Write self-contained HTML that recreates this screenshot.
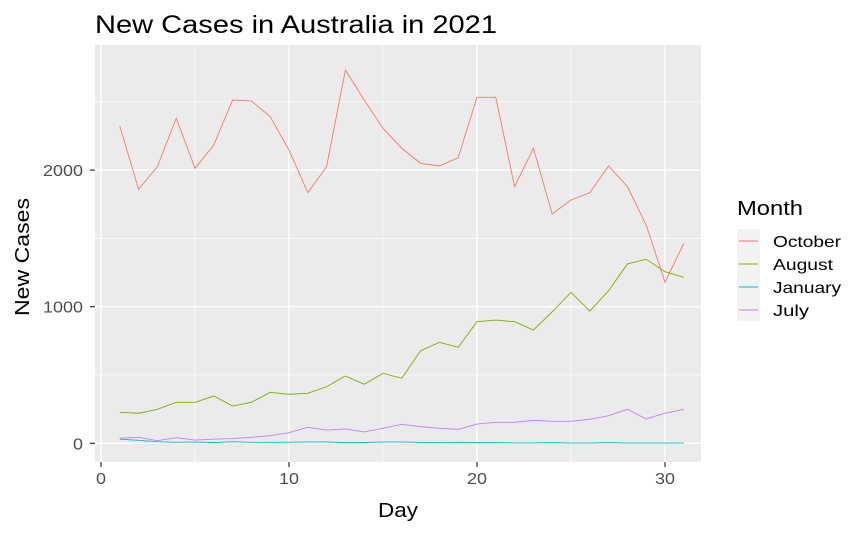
<!DOCTYPE html>
<html><head><meta charset="utf-8"><style>
body{margin:0;background:#fff;font-family:"Liberation Sans",Arial,sans-serif}
</style></head><body>
<svg id="chart" width="865" height="533" xmlns="http://www.w3.org/2000/svg" font-family="Liberation Sans, Arial, sans-serif">
<text x="95" y="33" font-size="25" textLength="402" lengthAdjust="spacingAndGlyphs" fill="#000">New Cases in Australia in 2021</text>
<rect x="95" y="45" width="606" height="417" fill="#EBEBEB"/>
<g id="grid"></g><g id="axes"></g><g id="lines"></g>
<text x="398" y="517" font-size="20" textLength="40" lengthAdjust="spacingAndGlyphs" text-anchor="middle">Day</text>
<text transform="translate(29,257) rotate(-90)" font-size="20" textLength="118" lengthAdjust="spacingAndGlyphs" text-anchor="middle">New Cases</text>
<g id="legend">
<text x="737" y="215" font-size="20" textLength="66" lengthAdjust="spacingAndGlyphs">Month</text>
<rect x="737" y="229" width="23" height="92" fill="#F2F2F2"/>
</g>
</svg>
<script>
const days=[1,2,3,4,5,6,7,8,9,10,11,12,13,14,15,16,17,18,19,20,21,22,23,24,25,26,27,28,29,30,31];
const october=[2323,1859,2025,2379,2013,2184,2513,2506,2391,2147,1835,2025,2733,2513,2306,2160,2050,2030,2091,2533,2533,1879,2160,1679,1781,1835,2030,1879,1598,1179,1464];
const august=[227,220,249,300,300,346,273,300,373,359,366,414,493,432,512,476,678,739,703,890,902,890,829,963,1105,968,1117,1313,1347,1256,1215];
const january=[30,22,12,7,10,5,12,7,7,8,10,10,5,5,10,10,6,6,7,5,5,3,3,5,2,2,5,2,2,2,2];
const july=[37,44,19,41,24,30,35,44,56,78,117,97,105,83,110,139,122,110,102,141,154,154,168,161,161,176,202,249,178,220,249];
const seriesNames=["October","August","January","July"];
const colors=["#F8766D","#7CAE00","#00BFC4","#C77CFF"];
const xTicks=[0,10,20,30];
const yTicks=[0,1000,2000];
const yMinor=[500,1500,2500];
const legendWidths=[68,60,68,36];
const ns="http://www.w3.org/2000/svg";
const X=d=>101+d*18.8;
const Y=v=>443.3-v*0.1366;
function mk(tag,attrs,parent){const e=document.createElementNS(ns,tag);for(const k in attrs)e.setAttribute(k,attrs[k]);parent.appendChild(e);return e;}
const grid=document.getElementById('grid'),axes=document.getElementById('axes'),lines=document.getElementById('lines'),legend=document.getElementById('legend');
yMinor.forEach(v=>{const l=mk('line',{x1:95,x2:701,y1:Y(v),y2:Y(v),stroke:'#fff','stroke-width':0.7},grid);

});
[5,15,25].forEach(v=>{const l=mk('line',{x1:X(v),x2:X(v),y1:45,y2:462,stroke:'#fff','stroke-width':0.7},grid);

});
yTicks.forEach(v=>{const l=mk('line',{x1:95,x2:701,y1:Y(v),y2:Y(v),stroke:'#fff','stroke-width':1.4},grid);


mk('line',{x1:90,x2:95,y1:Y(v),y2:Y(v),stroke:'#333','stroke-width':1.2},axes);
const s=String(v);
const t=mk('text',{x:83,y:Y(v)+6,'font-size':16,'text-anchor':'end',fill:'#4D4D4D',textLength:s.length*10,lengthAdjust:'spacingAndGlyphs'},axes);t.textContent=s;

});
xTicks.forEach(v=>{const l=mk('line',{x1:X(v),x2:X(v),y1:45,y2:462,stroke:'#fff','stroke-width':1.4},grid);


mk('line',{x1:X(v),x2:X(v),y1:462,y2:467,stroke:'#333','stroke-width':1.2},axes);
const s=String(v);
const t=mk('text',{x:X(v),y:484,'font-size':16,'text-anchor':'middle',fill:'#4D4D4D',textLength:s.length*10,lengthAdjust:'spacingAndGlyphs'},axes);t.textContent=s;

});
const data=[october,august,january,july];
data.forEach((s,i)=>{const p=mk('polyline',{points:s.map((v,j)=>X(days[j])+','+Y(v)).join(' '),fill:'none',stroke:colors[i],'stroke-width':0.9},lines);


const y=241+i*23;
mk('line',{x1:739,x2:758,y1:y,y2:y,stroke:colors[i],'stroke-width':0.9},legend);
const t=mk('text',{x:773,y:y+6,'font-size':16,textLength:legendWidths[i],lengthAdjust:'spacingAndGlyphs'},legend);t.textContent=seriesNames[i];

});
</script>
</body></html>
